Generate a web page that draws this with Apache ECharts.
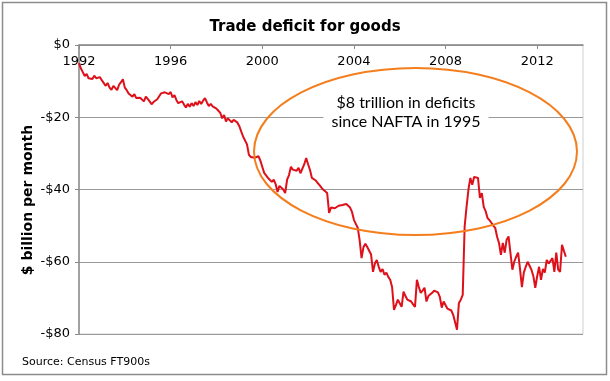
<!DOCTYPE html>
<html>
<head>
<meta charset="utf-8">
<script src="https://cdn.jsdelivr.net/npm/echarts@6/dist/echarts.min.js"></script>
<style>
html,body{margin:0;padding:0;background:#fff;}
#chart{width:610px;height:381px;}
</style>
</head>
<body>
<div id="chart"></div>
<script>
// Monthly goods trade balance, $ billion, starting Jan 1992
var startYear = 1992;
var values = [
  -5, -6.5, -7.5, -8.6, -8, -9.2, -8.7, -9.4, -8.5, -9.2, -9.3, -8.9,
  -9.8, -10.2, -11.3, -10.5, -11.8, -12.4, -11.3, -11.8, -12.5, -11, -10.3, -9.5,
  -11.8, -12.5, -13.4, -13.2, -14.3, -13.6, -14.7, -15.2, -14.6, -14.2, -15.6, -14.3,
  -14.9, -15.6, -16.4, -15.8, -16, -15, -14.2, -13.4, -13, -13.1, -12.8, -13.6,
  -13, -14.5, -13.9, -15.2, -16.1, -16.6, -15.6, -16.5, -17.3, -16.3, -17.1, -16.1,
  -16.9, -15.8, -16.6, -15.5, -16.3, -15.4, -14.7, -15.9, -16.9, -16.3, -17, -17.3,
  -17.6, -18.2, -18.8, -20.3, -19.4, -21.2, -20.3, -20.8, -21.4, -20.7, -21.1, -21.5,
  -22.5, -24, -25.4, -25, -27.5, -30.4, -31, -30.5, -31.2, -31, -30.8, -32,
  -33.7, -35.4, -35, -36.8, -36.5, -37.9, -37.3, -38.5, -40.7, -39, -39.3, -40,
  -41, -37.3, -36, -33.7, -34.5, -35, -34.8, -34, -35.5, -35, -33, -31.3,
  -33, -34.6, -36.8, -37, -37.5, -38.2, -38.8, -39.5, -40.1, -40.5, -41, -46.5,
  -45, -44.8, -45.2, -45.6, -44.5, -45, -44.3, -44.8, -44, -43.7, -45, -46.2,
  -48.4, -49.5, -50.6, -54, -59, -56, -55, -55.9, -56, -58, -62.8, -60.5,
  -59.5, -61.4, -62.8, -62, -63.6, -63, -64.2, -65, -67, -73.3, -72, -70.5,
  -71.5, -72.5, -68.3, -69.5, -70.5, -70, -71, -71.8, -72.5, -65, -67, -68.6,
  -68, -67.2, -71, -69.5, -69, -68.6, -68, -67.8, -68.5, -69.7, -72.7, -71,
  -71.4, -73, -72.7, -73.5, -74.7, -74.2, -78.8, -71.4, -70.5, -69.2, -50.3, -44.8,
  -40, -36.8, -38.7, -36.5, -36, -36.8, -42.3, -41, -44.8, -46, -47.9, -48.5,
  -49.2, -50, -50.6, -53.1, -54.8, -58.1, -54.8, -57.5, -53.9, -53, -53.1, -62.2,
  -60, -58.6, -57.5, -62, -67, -63, -61.4, -60, -60.3, -62.2, -64, -67.2,
  -64, -61.4, -65, -62, -63, -59.5, -60.5, -60, -59, -62.8, -57.5, -62.2,
  -62.8, -55.3, -57, -58.6
];
var xTicks = [1992, 1996, 2000, 2004, 2008, 2012];
var yTicks = [0, -20, -40, -60, -80];
var titleText = 'Trade deficit for goods';
var yAxisName = '$ billion per month';
var sourceText = 'Source: Census FT900s';
var noteLines = ['$8 trillion in deficits', 'since NAFTA in 1995'];

var seriesData = values.map(function (v, i) { return [startYear + i / 12, v]; });

var chart = echarts.init(document.getElementById('chart'), null, {renderer: 'canvas'});
chart.setOption({
  animation: false,
  backgroundColor: '#fff',
  title: {
    text: titleText,
    left: 'center',
    top: 15,
    textStyle: {fontFamily: 'DejaVu Sans', fontWeight: 'bold', fontSize: 15, color: '#000'}
  },
  grid: {left: 79, right: 27, top: 45, bottom: 47, show: true, borderColor: '#cfcfcf', borderWidth: 1},
  xAxis: {
    type: 'value',
    position: 'top',
    min: xTicks[0],
    max: 2014,
    interval: 4,
    axisLine: {show: true, onZero: false, lineStyle: {color: '#8a8a8a', width: 1.5}},
    axisTick: {show: true, inside: true, length: 4, lineStyle: {color: '#8a8a8a'}},
    axisLabel: {
      inside: true, margin: 10, showMaxLabel: false,
      fontFamily: 'DejaVu Sans', fontSize: 13, color: '#000',
      formatter: function (v) { return xTicks.indexOf(v) >= 0 ? String(v) : ''; }
    },
    splitLine: {show: false}
  },
  yAxis: {
    type: 'value',
    min: yTicks[yTicks.length - 1],
    max: yTicks[0],
    interval: 20,
    axisLine: {show: true, lineStyle: {color: '#8a8a8a', width: 1.5}},
    axisTick: {show: true, length: 4, lineStyle: {color: '#8a8a8a'}},
    axisLabel: {
      margin: 9, fontFamily: 'DejaVu Sans', fontSize: 13, color: '#000',
      formatter: function (v) { return v === 0 ? '$0' : '-$' + Math.abs(v); }
    },
    splitLine: {show: true, lineStyle: {color: '#9a9a9a', width: 1.2}}
  },
  series: [{
    type: 'line',
    data: seriesData,
    showSymbol: false,
    symbol: 'none',
    lineStyle: {color: '#DE1019', width: 2},
    z: 3
  }],
  graphic: [
    {type: 'rect', shape: {x: 2.5, y: 2.5, width: 604, height: 372}, style: {fill: 'none', stroke: '#8c8c8c', lineWidth: 1.5}, z: 10},
    {type: 'text', left: 22, top: 357, style: {text: sourceText, fontFamily: 'DejaVu Sans', fontSize: 11, fill: '#000'}, z: 10},
    {type: 'text', x: 28, y: 200, rotation: Math.PI / 2,
     style: {text: yAxisName, fontFamily: 'DejaVu Sans', fontWeight: 'bold', fontSize: 14, fill: '#000', align: 'center', verticalAlign: 'middle'}, z: 10},
    {type: 'text', x: 406, y: 112,
     style: {text: noteLines.join('\n'), fontFamily: 'Lato', fontSize: 16, lineHeight: 19, fill: '#000', align: 'center', verticalAlign: 'middle',
             backgroundColor: '#fff', padding: [2, 8, 2, 8]}, z: 20},
    {type: 'ellipse', shape: {cx: 415.5, cy: 151.5, rx: 161.5, ry: 83.5}, style: {fill: 'none', stroke: '#F47E1E', lineWidth: 2}, z: 30}
  ]
});
</script>
</body>
</html>
